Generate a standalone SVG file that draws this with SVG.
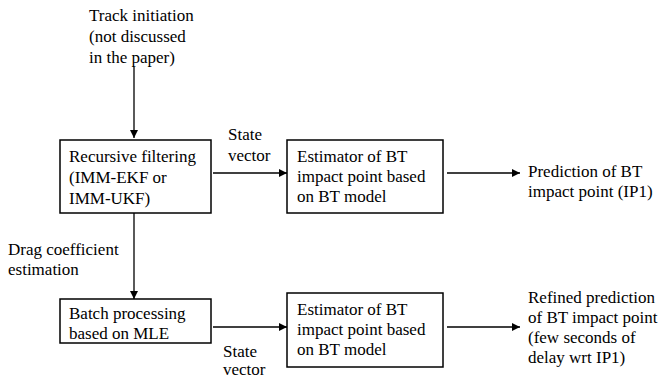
<svg xmlns="http://www.w3.org/2000/svg" width="665" height="379" viewBox="0 0 665 379">
<defs>
<style>
text{font-family:'Liberation Serif','Times New Roman','DejaVu Serif',serif;font-size:17px;fill:#000}
.box{fill:#fff;stroke:#000;stroke-width:1.5}
.ln{stroke:#000;stroke-width:1.3;fill:none}
</style>
<marker id="ah" viewBox="0 0 10 10" refX="10" refY="5" markerWidth="8" markerHeight="8" markerUnits="userSpaceOnUse" orient="auto">
<path d="M0,0 L10,5 L0,10 z" fill="#000"/>
</marker>
</defs>
<rect width="665" height="379" fill="#fff"/>
<g id="connectors">
<line class="ln" x1="134" y1="67" x2="134" y2="138" marker-end="url(#ah)"/>
<line class="ln" x1="213" y1="173" x2="287" y2="173" marker-end="url(#ah)"/>
<line class="ln" x1="447" y1="173" x2="520" y2="173" marker-end="url(#ah)"/>
<line class="ln" x1="134" y1="213" x2="134" y2="299" marker-end="url(#ah)"/>
<line class="ln" x1="213" y1="327" x2="287" y2="327" marker-end="url(#ah)"/>
<line class="ln" x1="447" y1="327" x2="520" y2="327" marker-end="url(#ah)"/>
</g>
<g font-family="'Liberation Serif', 'Times New Roman', serif" font-size="17">
<g id="track-init">
<text x="89" y="21">Track initiation</text>
<text x="89" y="42">(not discussed</text>
<text x="89" y="63">in the paper)</text>
</g>
<g id="recursive">
<rect class="box" x="60" y="140" width="151" height="73"/>
<text x="69" y="162">Recursive filtering</text>
<text x="69" y="183">(IMM-EKF or</text>
<text x="69" y="204">IMM-UKF)</text>
</g>
<g id="state1">
<text x="228" y="140">State</text>
<text x="228" y="161">vector</text>
</g>
<g id="estimator1">
<rect class="box" x="287" y="140" width="156" height="73"/>
<text x="297" y="162">Estimator of BT</text>
<text x="297" y="182">impact point based</text>
<text x="297" y="202">on BT model</text>
</g>
<g id="prediction1">
<text x="528" y="177">Prediction of BT</text>
<text x="528" y="197">impact point (IP1)</text>
</g>
<g id="drag">
<text x="8" y="255">Drag coefficient</text>
<text x="8" y="275">estimation</text>
</g>
<g id="batch">
<rect class="box" x="60" y="299" width="151" height="44"/>
<text x="69" y="319">Batch processing</text>
<text x="69" y="339">based on MLE</text>
</g>
<g id="state2">
<text x="223" y="357">State</text>
<text x="223" y="375">vector</text>
</g>
<g id="estimator2">
<rect class="box" x="287" y="293" width="156" height="74"/>
<text x="297" y="315">Estimator of BT</text>
<text x="297" y="335">impact point based</text>
<text x="297" y="355">on BT model</text>
</g>
<g id="prediction2">
<text x="528" y="303">Refined prediction</text>
<text x="528" y="323">of BT impact point</text>
<text x="528" y="343">(few seconds of</text>
<text x="528" y="363">delay wrt IP1)</text>
</g>
</g>
</svg>
